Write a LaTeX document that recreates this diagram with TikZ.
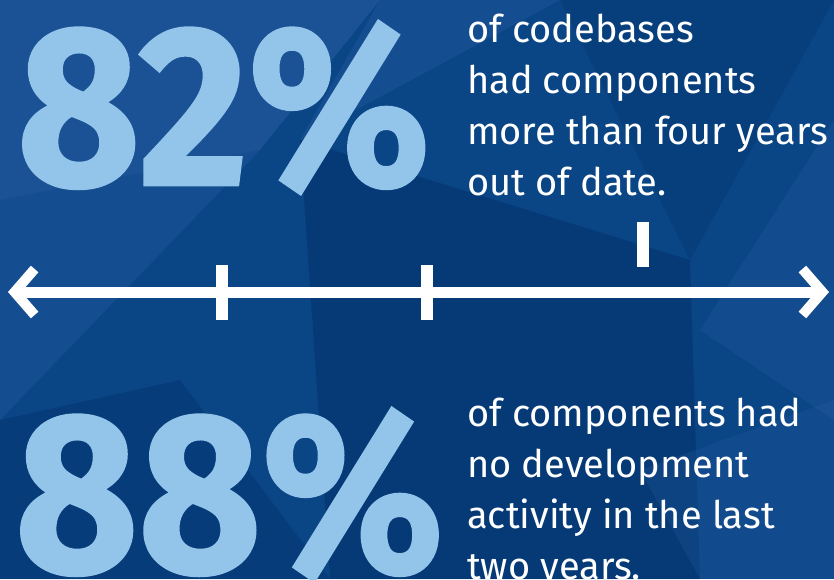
\documentclass[tikz,border=0pt]{standalone}
\usepackage{fontspec}
\setmainfont{Fira Sans}
\newfontfamily\numfont[FakeBold=1.2]{Fira Sans}
\usetikzlibrary{arrows.meta}
\definecolor{bgbase}{HTML}{0A4585}
\definecolor{bglight}{HTML}{2A5FA5}
\definecolor{bgdark}{HTML}{02306A}
\definecolor{numblue}{HTML}{93C4EA}

\begin{document}
\begin{tikzpicture}[x=1pt,y=-1pt,
  bignum/.style={anchor=base west,inner sep=0pt,text=numblue,font=\fontsize{228}{228}\selectfont\numfont\bfseries},
  blurb/.style={anchor=base west,inner sep=0pt,text=white,align=left,font=\fontsize{38}{51}\selectfont},
  axis/.style={white,line width=11pt,{Straight Barb[length=20pt,width=46pt,line width=10pt]}-{Straight Barb[length=20pt,width=46pt,line width=10pt]}},
  tick/.style={white,line width=12pt}]
  \useasboundingbox (0,0) rectangle (834,579);
  \clip (0,0) rectangle (834,579);
  % background
  \fill[bgbase] (0,0) rectangle (834,579);
  \fill[bglight,opacity=0.5] (0,0) -- (380,0) -- (260,150) -- (0,200) -- cycle;
  \fill[bglight,opacity=0.35] (380,0) -- (560,0) -- (300,140) -- cycle;
  \fill[bgdark,opacity=0.5] (300,140) -- (690,260) -- (700,579) -- (330,579) -- cycle;
  \fill[bgdark,opacity=0.3] (560,0) -- (834,0) -- (690,260) -- cycle;
  \fill[bglight,opacity=0.3] (834,120) -- (834,420) -- (700,330) -- cycle;
  \fill[bglight,opacity=0.35] (0,200) -- (260,150) -- (0,420) -- cycle;
  \fill[bgdark,opacity=0.4] (0,420) -- (180,380) -- (330,579) -- (0,579) -- cycle;
  \fill[bglight,opacity=0.25] (640,470) -- (834,400) -- (834,579) -- (700,579) -- cycle;

  % numbers
  \node[bignum] (top) at (17,185) {\scalebox{0.93}[1]{82\%}};
  \node[bignum] (bot) at (15,572) {\scalebox{0.93}[1]{88\%}};

  % texts (base = last line)
  \node[blurb] (toptext) at (467,195) {of codebases\\had components\\more than four years\\out of date.};
  \node[blurb] (bottext) at (467,579) {of components had\\no development\\activity in the last\\two years.};

  % time line
  \coordinate (lend) at (8,292);
  \coordinate (rend) at (829,292);
  \coordinate (t1) at (222,292);
  \coordinate (t2) at (427,292);
  \coordinate (t3) at (643,244);
  \draw[axis] (lend) -- (rend);
  \draw[tick] (t1) +(0,-27) -- +(0,28);
  \draw[tick] (t2) +(0,-27) -- +(0,28);
  \draw[tick] (t3) +(0,-22) -- +(0,23);
\end{tikzpicture}
\end{document}
